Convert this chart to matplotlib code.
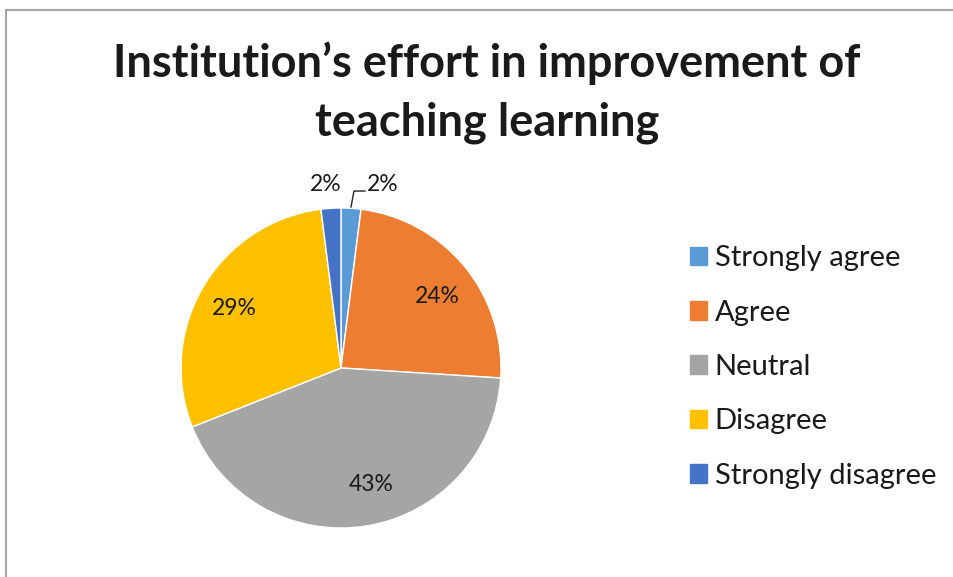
import matplotlib
matplotlib.use("Agg")
import matplotlib.pyplot as plt
from matplotlib.patches import Rectangle

categories = ["Strongly agree", "Agree", "Neutral", "Disagree", "Strongly disagree"]
values = [2, 24, 43, 29, 2]
colors = ["#5B9BD5", "#ED7D31", "#A5A5A5", "#FFC000", "#4472C4"]
title = "Institution\u2019s effort in improvement of\nteaching learning"

plt.rcParams['font.family'] = ['Lato', 'DejaVu Sans']

W, H = 954, 577
fig = plt.figure(figsize=(W / 100, H / 100), dpi=100)

# border frame
fig.patches.append(Rectangle((6 / W, -0.01), 1.0, 1 - 10 / H + 0.01, transform=fig.transFigure,
                             fill=False, edgecolor="#A6A6A6", linewidth=1.5))

cx, cy, R = 341, 368, 160
ax = fig.add_axes([(cx - 1.25 * R) / W, (H - cy - 1.25 * R) / H, 2.5 * R / W, 2.5 * R / H])

wedges, texts, autotexts = ax.pie(values, colors=colors, startangle=90, counterclock=False,
                                  autopct=lambda p: f"{p:.0f}%", pctdistance=0.75,
                                  wedgeprops=dict(edgecolor="white", linewidth=1),
                                  textprops=dict(fontsize=16.5, color="#1a1a1a"))
ax.set_xlim(-1.25, 1.25)
ax.set_ylim(-1.25, 1.25)
ax.set_aspect('equal')

# label placement (Excel-like)
label_pos = {0: (0.16, 1.145, "left"), 1: (0.6, 0.444, "center"), 2: (0.1875, -0.731, "center"),
             3: (-0.669, 0.369, "center"), 4: (-0.095, 1.145, "center")}
for i, (x, y, ha) in label_pos.items():
    autotexts[i].set_position((x, y))
    autotexts[i].set_ha(ha)
    autotexts[i].set_va("center")
    autotexts[i].set_clip_on(False)
ax.plot([0.0625, 0.081, 0.15], [1.006, 1.106, 1.106], color="#262626", lw=1, clip_on=False)

fig.text(487 / W, 1 - 92.5 / H, title, ha="center", va="center", fontsize=32.5, fontweight="bold",
         color="#1a1a1a", linespacing=1.5)

handles = [Rectangle((0, 0), 1, 1, color=c) for c in colors]
fig.legend(handles, categories, loc="center left", bbox_to_anchor=(690 / W, 1 - 367 / H),
           frameon=False, fontsize=21, handlelength=0.6, handleheight=0.6,
           handletextpad=0.25, labelspacing=0.97, borderpad=0, borderaxespad=0,
           labelcolor="#1a1a1a")

fig.savefig("out.png", dpi=100)
